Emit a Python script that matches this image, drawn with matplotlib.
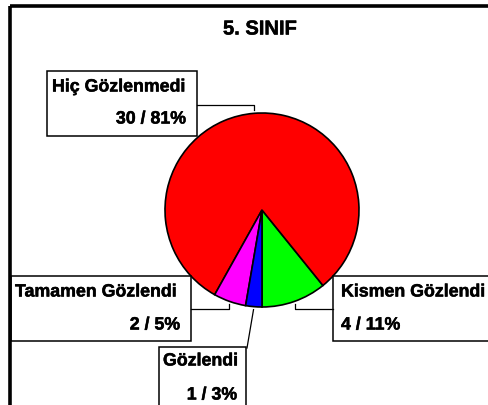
import math
import matplotlib
matplotlib.use("Agg")
import matplotlib.pyplot as plt
import matplotlib.patheffects as pe
from matplotlib.patches import Rectangle

plt.rcParams['font.family'] = ['Liberation Sans', 'DejaVu Sans']

# --------------------- data ---------------------
TITLE = "5. SINIF"
categories = ["Kismen Gözlendi", "Hiç Gözlenmedi", "Tamamen Gözlendi", "Gözlendi"]
counts = [4, 30, 2, 1]
colors = ["#00ff00", "#ff0000", "#ff00ff", "#0000ff"]

W, H = 488, 406
def Y(py):
    # pixel row (from top) -> data y
    return H - py

CX, CY, R = 262, 211, 97
FS = 12.8
heavy = [pe.withStroke(linewidth=0.35, foreground='black')]

fig = plt.figure(figsize=(W / 100, H / 100), dpi=100)
ax = fig.add_axes([0, 0, 1, 1])

wedges, _ = ax.pie(counts, colors=colors, startangle=-90, counterclock=True,
                   center=(CX, Y(CY)), radius=R,
                   wedgeprops=dict(edgecolor='black', linewidth=1.2))
ax.set_xlim(0, W)
ax.set_ylim(0, H)
ax.axis('off')

# outer frame (right/bottom edges are cut off in the picture)
ax.add_patch(Rectangle((9.5, Y(7)), W, -H, fill=False, edgecolor='black', lw=2.6, zorder=5))

ax.text(260, Y(30), TITLE, ha='center', va='center', fontsize=14.5, fontweight='bold',
        path_effects=heavy)

total = sum(counts)

def mid_point(w, extra=0):
    a = math.radians((w.theta1 + w.theta2) / 2)
    return CX + (R + extra) * math.cos(a), Y(CY) + (R + extra) * math.sin(a)

# box layout: (left, top, right, bottom) in pixel rows, text positions, leader style
boxes = {
    "Hiç Gözlenmedi":   dict(box=(47, 72, 197, 137), name=(52, 88, 'left'), val=(186, 120, 'right'),
                             side='right', ly=106),
    "Tamamen Gözlendi": dict(box=(11, 277, 191, 342), name=(15, 293, 'left'), val=(180, 326, 'right'),
                             side='right', ly=310),
    "Gözlendi":         dict(box=(159, 348, 246, 420), name=(163, 362, 'left'), val=(237, 396, 'right'),
                             side='diag', ly=349),
    "Kismen Gözlendi":  dict(box=(333, 277, 500, 342), name=(341, 293, 'left'), val=(341, 326, 'left'),
                             side='left', ly=310),
}

for w, name, n in zip(wedges, categories, counts):
    b = boxes[name]
    l, t, r, bt = b['box']
    ax.add_patch(Rectangle((l, Y(bt)), r - l, bt - t, facecolor='white',
                           edgecolor='black', lw=1.1, zorder=3))
    x, y, ha = b['name']
    ax.text(x, Y(y), name, ha=ha, va='center', fontsize=FS, fontweight='bold', zorder=4,
            path_effects=heavy)
    x, y, ha = b['val']
    pct = round(100 * n / total)
    ax.text(x, Y(y), f"{n} / {pct}%", ha=ha, va='center', fontsize=FS, fontweight='bold', zorder=4,
            path_effects=heavy)

    mx, my = mid_point(w, extra=3)
    if b['side'] == 'diag':
        ax.plot([r + 1, mx], [Y(b['ly']), my], color='black', lw=0.9, zorder=4)
    else:
        x0 = r if b['side'] == 'right' else l
        ax.plot([x0, mx, mx], [Y(b['ly']), Y(b['ly']), my], color='black', lw=0.9, zorder=4)

fig.savefig("out.png", dpi=100, facecolor='white')
